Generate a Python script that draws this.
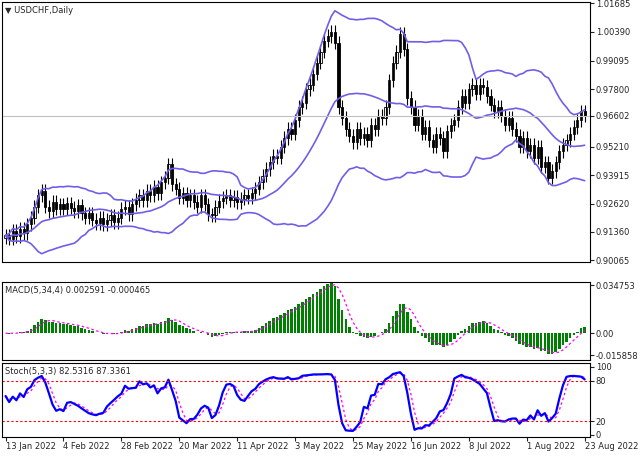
import numpy as np, pandas as pd, matplotlib
matplotlib.use("Agg")
import matplotlib.pyplot as plt, seaborn as sns

closes = [0.9120,0.9105,0.9140,0.9115,0.9150,0.9130,0.9170,0.9200,0.9250,0.9300,
0.9320,0.9250,0.9230,0.9270,0.9240,0.9260,0.9240,0.9265,0.9245,0.9230,
0.9255,0.9220,0.9200,0.9220,0.9190,0.9175,0.9200,0.9170,0.9190,0.9210,
0.9180,0.9200,0.9240,0.9250,0.9215,0.9260,0.9280,0.9300,0.9280,0.9320,
0.9300,0.9340,0.9310,0.9360,0.9380,0.9440,0.9350,0.9330,0.9290,0.9310,
0.9280,0.9300,0.9270,0.9250,0.9300,0.9260,0.9215,0.9210,0.9250,0.9275,
0.9290,0.9300,0.9280,0.9295,0.9270,0.9285,0.9300,0.9290,0.9310,0.9330,
0.9360,0.9390,0.9420,0.9450,0.9480,0.9470,0.9520,0.9560,0.9600,0.9580,
0.9640,0.9700,0.9720,0.9780,0.9800,0.9850,0.9900,0.9950,1.0000,1.0020,
1.0040,0.9990,0.9700,0.9650,0.9600,0.9570,0.9540,0.9600,0.9560,0.9580,
0.9550,0.9620,0.9600,0.9660,0.9650,0.9700,0.9820,0.9900,0.9950,1.0030,
0.9960,0.9740,0.9700,0.9620,0.9660,0.9580,0.9610,0.9550,0.9520,0.9580,
0.9560,0.9500,0.9590,0.9620,0.9640,0.9700,0.9750,0.9720,0.9780,0.9800,
0.9760,0.9800,0.9790,0.9750,0.9710,0.9680,0.9700,0.9660,0.9620,0.9650,
0.9600,0.9570,0.9520,0.9560,0.9500,0.9530,0.9470,0.9520,0.9430,0.9450,
0.9380,0.9410,0.9450,0.9500,0.9530,0.9550,0.9580,0.9610,0.9640,0.9680,0.96602]
wick = 0.0030
date_labels = ["13 Jan 2022","4 Feb 2022","28 Feb 2022","20 Mar 2022","11 Apr 2022","3 May 2022",
               "25 May 2022","16 Jun 2022","8 Jul 2022","1 Aug 2022","23 Aug 2022"]
price_ticks = [1.01685,1.00390,0.99095,0.97800,0.96602,0.95210,0.93915,0.92620,0.91360,0.90065]
macd_ticks = [0.034753,0.0,-0.015858]

c = pd.Series(closes); n = len(c); x = np.arange(n)
o = c.shift(1).fillna(c.iloc[0] - 0.001)
h = np.maximum(o, c) + wick; l = np.minimum(o, c) - wick
mid = c.rolling(20, min_periods=1).mean(); sd = c.rolling(20, min_periods=1).std(ddof=0)
macd = c.ewm(span=5, adjust=False).mean() - c.ewm(span=34, adjust=False).mean()
sig = macd.rolling(4, min_periods=1).mean()
hh = pd.Series(h).rolling(5, min_periods=1).max(); ll = pd.Series(l).rolling(5, min_periods=1).min()
k = 100*(c-ll).rolling(3, min_periods=1).sum()/(hh-ll).rolling(3, min_periods=1).sum()
d = k.rolling(3, min_periods=1).mean()

sns.set_style("white")
plt.rcParams['font.family'] = ['DejaVu Sans']
fs = 6
fig = plt.figure(figsize=(6.4, 4.57), dpi=100)
L, R = 0.003, 0.922
ax = fig.add_axes([L, 0.427, R-L, 0.569])
am = fig.add_axes([L, 0.212, R-L, 0.171])
ast = fig.add_axes([L, 0.044, R-L, 0.162])
band = "#6f5fe8"
ax.vlines(x, l, h, color="black", lw=0.8)
up = c >= o
ax.bar(x[up], (c-o)[up], bottom=o[up], width=0.6, color="white", edgecolor="black", lw=0.6)
ax.bar(x[~up], (o-c)[~up], bottom=c[~up], width=0.6, color="black", edgecolor="black", lw=0.6)
for s in [mid, mid+2*sd, mid-2*sd]:
    sns.lineplot(x=x, y=s.values, ax=ax, color=band, lw=1.2)
ax.axhline(closes[-1], color="#c0c0c0", lw=0.8)
ax.set_ylim(0.9000, 1.0175)
ax.set_yticks(price_ticks)
ax.set_yticklabels([f"{v:.5f}" for v in price_ticks])
ax.text(0.005, 0.985, "▼ USDCHF,Daily", transform=ax.transAxes, fontsize=fs, va="top")

am.bar(x, macd, width=0.7, color="#008000", lw=0)
sns.lineplot(x=x, y=sig.values, ax=am, color="#ff00ff", lw=0.9, linestyle=(0,(2,2)))
am.set_ylim(-0.0195, 0.037); am.set_yticks(macd_ticks)
am.set_yticklabels(["0.034753","0.00","-0.015858"])
am.text(0.005, 0.95, "MACD(5,34,4) 0.002591 -0.000465", transform=am.transAxes, fontsize=fs, va="top")

sns.lineplot(x=x, y=d.values, ax=ast, color="#ff00ff", lw=0.9, linestyle=(0,(2,2)))
sns.lineplot(x=x, y=k.values, ax=ast, color="#0000ff", lw=1.6)
for lv in (20, 80): ast.axhline(lv, color="#ff0000", lw=0.8, linestyle=(0,(2,2)))
ast.set_ylim(-3, 106); ast.set_yticks([100,80,20,0])
ast.text(0.005, 0.95, "Stoch(5,3,3) 82.5316 87.3361", transform=ast.transAxes, fontsize=fs, va="top")
ast.set_xticks(np.arange(0, n, 16)[:len(date_labels)])
ast.set_xticklabels(date_labels)

for a in (ax, am, ast):
    a.set_xlim(-1, n+0.5)
    a.yaxis.tick_right()
    a.tick_params(axis="both", labelsize=fs, length=3, direction="out", right=True, bottom=(a is ast), pad=1)
    for sp in a.spines.values(): sp.set_color("black"); sp.set_linewidth(0.8)
    a.set_xlabel(""); a.set_ylabel("")
    if a is not ast: a.set_xticks([])
for lab in ast.get_xticklabels(): lab.set_ha("left")
fig.savefig("out.png", dpi=100)
